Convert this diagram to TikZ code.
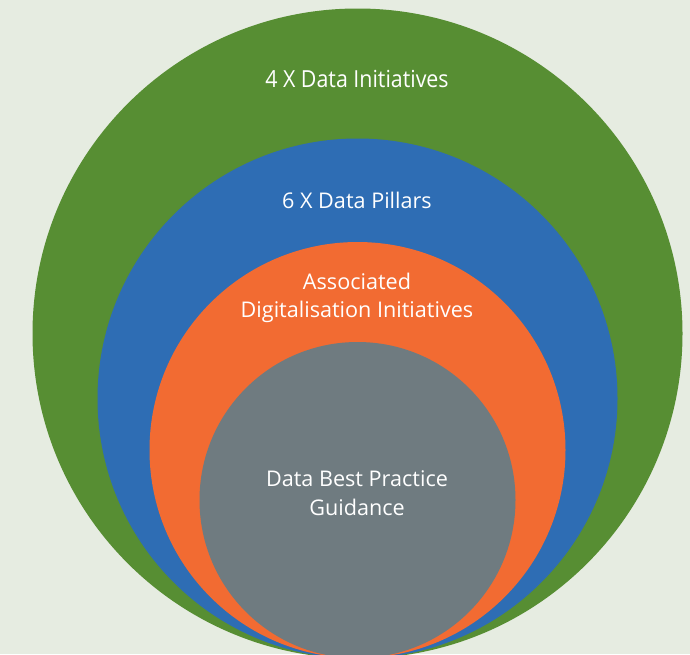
\documentclass[tikz,border=0pt]{standalone}
\usepackage{fontspec}
\setmainfont{Open Sans}
\definecolor{bgcol}{HTML}{E6ECE1}
\definecolor{ringgreen}{HTML}{578E33}
\definecolor{ringblue}{HTML}{2E6DB4}
\definecolor{ringorange}{HTML}{F26B32}
\definecolor{coregray}{HTML}{6F7B80}
\tikzset{
  ring/.style={circle, inner sep=0pt, outer sep=0pt, draw=none},
  label/.style={text=white, align=center, font=\fontsize{21.6}{29}\selectfont, inner sep=0pt},
}
\begin{document}
\begin{tikzpicture}[x=1pt,y=-1pt]
  \useasboundingbox (0,0) rectangle (690,654);
  \fill[bgcol] (0,0) rectangle (690,654);
  \begin{scope}
    \clip (0,0) rectangle (690,654);
    % nested circles, all touching at the bottom
    \node[ring, fill=ringgreen,  minimum size=650pt] (outer)  at (357.5,333.5) {};
    \node[ring, fill=ringblue,   minimum size=520pt] (pillars) at (357.5,398.5) {};
    \node[ring, fill=ringorange, minimum size=416pt] (assoc)  at (357.5,450) {};
    \node[ring, fill=coregray,   minimum size=316pt] (core)   at (357.5,500) {};
  \end{scope}
  % ring captions
  \node[label, font=\fontsize{23.5}{29}\selectfont, xscale=0.91, anchor=base] (t1) at (357,87) {4 X Data Initiatives};
  \node[label, anchor=base] (t2) at (357,208) {6 X Data Pillars};
  \node[label, anchor=base] (t3) at (357,289) {Associated};
  \node[label, anchor=base] (t4) at (357,317) {Digitalisation Initiatives};
  \node[label, anchor=base] (t5) at (357,486) {Data Best Practice};
  \node[label, anchor=base] (t6) at (357,515) {Guidance};
\end{tikzpicture}
\end{document}
